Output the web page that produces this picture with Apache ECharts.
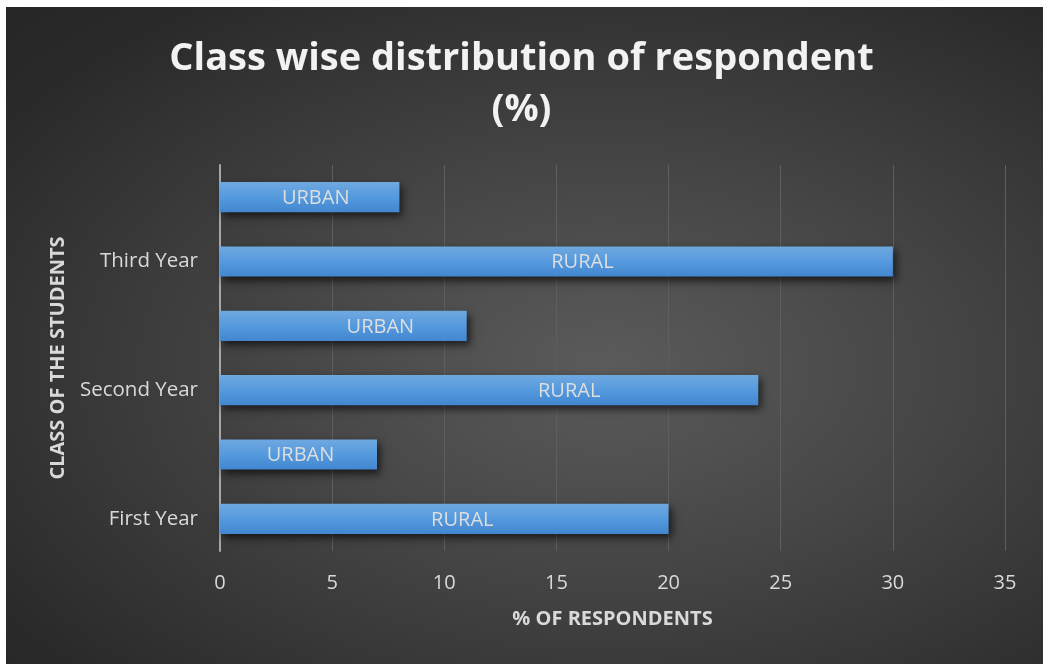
<!DOCTYPE html>
<html><head><meta charset="utf-8">
<script src="https://cdn.jsdelivr.net/npm/echarts@6/dist/echarts.min.js"></script>
<style>
html,body{margin:0;padding:0;background:#fff;}
#bg{position:absolute;left:6px;top:7px;width:1037px;height:657px;
background:radial-gradient(ellipse at 58% 55%, #5b5b5b 0%, #454545 40%, #2a2a2a 85%, #262626 100%);}
#c{position:absolute;left:0;top:0;width:1043px;height:664px;}
</style></head>
<body>
<div id="bg"></div>
<div id="c"></div>
<script>
const groups = ['First Year', 'Second Year', 'Third Year'];
const areas = ['RURAL', 'URBAN'];
const ruralValues = [20, 24, 30];
const urbanValues = [7, 11, 8];
const xTicks = [0, 5, 10, 15, 20, 25, 30, 35];

// label horizontal nudges (px), as placed in the original chart
const ruralLabelShift = [18, 80, 26];
const urbanLabelShift = [2, 37, 6];

const cats = [], items = [], areaOf = [];
groups.forEach((g, i) => {
  cats.push(g); areaOf.push(areas[0]);
  items.push({value: ruralValues[i], label: {offset: [ruralLabelShift[i], 1]}});
  cats.push(g + ' ' + areas[1]); areaOf.push(areas[1]);
  items.push({value: urbanValues[i], label: {offset: [urbanLabelShift[i], 1]}});
});

const chart = echarts.init(document.getElementById('c'), null, {renderer: 'canvas'});
const font = '"Open Sans", sans-serif';
chart.setOption({
  backgroundColor: 'transparent',
  textStyle: {fontFamily: font},
  title: {
    text: 'Class wise distribution of respondent\n(%)',
    left: 'center', top: 29,
    textStyle: {color: '#f2f2f2', fontSize: 38, fontWeight: 'bold', fontFamily: font, lineHeight: 51}
  },
  grid: {left: 220, right: 38, top: 165, bottom: 113, containLabel: false},
  xAxis: {
    type: 'value', min: 0, max: 35, interval: 5,
    name: '% OF RESPONDENTS', nameLocation: 'middle', nameGap: 58,
    nameTextStyle: {color: '#d9d9d9', fontSize: 20, fontWeight: 'bold', fontFamily: font},
    axisLine: {show: false}, axisTick: {show: false},
    axisLabel: {color: '#d9d9d9', fontSize: 20, margin: 22, fontFamily: font,
      formatter: v => xTicks.includes(v) ? String(v) : ''},
    splitLine: {show: true, lineStyle: {color: '#5e5e5e', width: 1}}
  },
  yAxis: {
    type: 'category', data: cats,
    name: 'CLASS OF THE STUDENTS', nameLocation: 'middle', nameGap: 152, nameRotate: 90,
    nameTextStyle: {color: '#d9d9d9', fontSize: 20, fontWeight: 'bold', fontFamily: font},
    axisLine: {show: true, lineStyle: {color: '#a6a6a6', width: 2}},
    axisTick: {show: false},
    axisLabel: {color: '#d9d9d9', fontSize: 20.5, margin: 22, fontFamily: font,
      interval: 0, formatter: (v, i) => i % 2 === 0 ? v : ''},
    splitLine: {show: false}
  },
  series: [{
    type: 'bar', data: items, barWidth: '47%',
    itemStyle: {
      color: new echarts.graphic.LinearGradient(0, 0, 0, 1, [
        {offset: 0, color: '#6fa8e0'}, {offset: 0.5, color: '#559ade'}, {offset: 1, color: '#4286cf'}
      ]),
      shadowColor: 'rgba(0,0,0,0.65)', shadowBlur: 8, shadowOffsetX: 3, shadowOffsetY: 4
    },
    label: {show: true, position: 'inside', color: '#dedede', fontSize: 20, fontFamily: font,
      formatter: p => areaOf[p.dataIndex]}
  }]
});
</script>
</body></html>
